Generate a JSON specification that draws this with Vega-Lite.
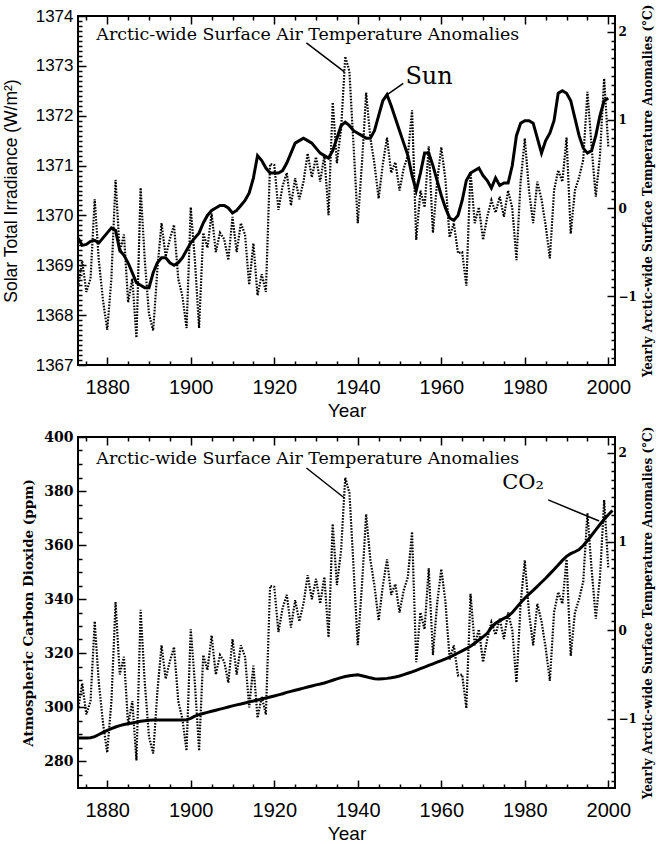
{
  "$schema": "https://vega.github.io/schema/vega-lite/v6.json",
  "background": "white",
  "padding": {"left": 1, "top": 3, "right": 2, "bottom": 0},
  "spacing": 4,
  "config": {
    "view": {"stroke": "black", "strokeWidth": 2},
    "axis": {"grid": false, "domain": false, "tickColor": "black", "tickWidth": 1.5, "labelColor": "black", "titleColor": "black"}
  },
  "datasets": {
    "series": [
      {"year": 1873, "temp": -0.9, "sun": 1369.55, "co2": 288.5},
      {"year": 1874, "temp": -0.6, "sun": 1369.4, "co2": 288.5},
      {"year": 1875, "temp": -0.95, "sun": 1369.42, "co2": 288.5},
      {"year": 1876, "temp": -0.8, "sun": 1369.48, "co2": 288.6},
      {"year": 1877, "temp": 0.1, "sun": 1369.5, "co2": 289.0},
      {"year": 1878, "temp": -0.6, "sun": 1369.45, "co2": 289.8},
      {"year": 1879, "temp": -1.05, "sun": 1369.55, "co2": 290.6},
      {"year": 1880, "temp": -1.38, "sun": 1369.65, "co2": 291.3},
      {"year": 1881, "temp": -0.8, "sun": 1369.75, "co2": 292.0},
      {"year": 1882, "temp": 0.32, "sun": 1369.7, "co2": 292.6},
      {"year": 1883, "temp": -0.5, "sun": 1369.3, "co2": 293.1},
      {"year": 1884, "temp": -0.3, "sun": 1369.2, "co2": 293.5},
      {"year": 1885, "temp": -1.07, "sun": 1369.05, "co2": 293.8},
      {"year": 1886, "temp": -0.8, "sun": 1368.85, "co2": 294.1},
      {"year": 1887, "temp": -1.47, "sun": 1368.65, "co2": 294.4},
      {"year": 1888, "temp": 0.23, "sun": 1368.6, "co2": 294.7},
      {"year": 1889, "temp": -0.6, "sun": 1368.55, "co2": 294.9},
      {"year": 1890, "temp": -1.2, "sun": 1368.55, "co2": 295.1},
      {"year": 1891, "temp": -1.39, "sun": 1368.85, "co2": 295.2},
      {"year": 1892, "temp": -0.7, "sun": 1369.05, "co2": 295.2},
      {"year": 1893, "temp": -0.17, "sun": 1369.15, "co2": 295.2},
      {"year": 1894, "temp": -0.55, "sun": 1369.15, "co2": 295.2},
      {"year": 1895, "temp": -0.35, "sun": 1369.05, "co2": 295.2},
      {"year": 1896, "temp": -0.19, "sun": 1369.0, "co2": 295.2},
      {"year": 1897, "temp": -0.8, "sun": 1369.05, "co2": 295.2},
      {"year": 1898, "temp": -1.0, "sun": 1369.15, "co2": 295.2},
      {"year": 1899, "temp": -1.36, "sun": 1369.3, "co2": 295.3},
      {"year": 1900, "temp": 0.01, "sun": 1369.45, "co2": 295.8},
      {"year": 1901, "temp": -0.6, "sun": 1369.55, "co2": 296.6},
      {"year": 1902, "temp": -1.36, "sun": 1369.65, "co2": 297.2},
      {"year": 1903, "temp": -0.28, "sun": 1369.85, "co2": 297.6},
      {"year": 1904, "temp": -0.45, "sun": 1370.0, "co2": 298.0},
      {"year": 1905, "temp": -0.06, "sun": 1370.1, "co2": 298.4},
      {"year": 1906, "temp": -0.5, "sun": 1370.15, "co2": 298.8},
      {"year": 1907, "temp": -0.28, "sun": 1370.2, "co2": 299.2},
      {"year": 1908, "temp": -0.35, "sun": 1370.2, "co2": 299.6},
      {"year": 1909, "temp": -0.59, "sun": 1370.15, "co2": 300.0},
      {"year": 1910, "temp": -0.1, "sun": 1370.05, "co2": 300.4},
      {"year": 1911, "temp": -0.5, "sun": 1370.1, "co2": 300.8},
      {"year": 1912, "temp": -0.17, "sun": 1370.2, "co2": 301.1},
      {"year": 1913, "temp": -0.3, "sun": 1370.3, "co2": 301.5},
      {"year": 1914, "temp": -0.87, "sun": 1370.45, "co2": 301.9},
      {"year": 1915, "temp": -0.4, "sun": 1370.75, "co2": 302.2},
      {"year": 1916, "temp": -0.99, "sun": 1371.2, "co2": 302.6},
      {"year": 1917, "temp": -0.75, "sun": 1371.1, "co2": 303.0},
      {"year": 1918, "temp": -0.95, "sun": 1370.95, "co2": 303.3},
      {"year": 1919, "temp": 0.5, "sun": 1370.85, "co2": 303.7},
      {"year": 1920, "temp": 0.49, "sun": 1370.85, "co2": 304.1},
      {"year": 1921, "temp": -0.02, "sun": 1370.85, "co2": 304.5},
      {"year": 1922, "temp": 0.25, "sun": 1370.9, "co2": 304.9},
      {"year": 1923, "temp": 0.4, "sun": 1371.05, "co2": 305.4},
      {"year": 1924, "temp": 0.03, "sun": 1371.25, "co2": 305.8},
      {"year": 1925, "temp": 0.34, "sun": 1371.45, "co2": 306.2},
      {"year": 1926, "temp": 0.1, "sun": 1371.5, "co2": 306.6},
      {"year": 1927, "temp": 0.3, "sun": 1371.55, "co2": 307.0},
      {"year": 1928, "temp": 0.62, "sun": 1371.5, "co2": 307.4},
      {"year": 1929, "temp": 0.35, "sun": 1371.45, "co2": 307.8},
      {"year": 1930, "temp": 0.58, "sun": 1371.35, "co2": 308.2},
      {"year": 1931, "temp": 0.3, "sun": 1371.25, "co2": 308.5},
      {"year": 1932, "temp": 0.6, "sun": 1371.2, "co2": 308.9},
      {"year": 1933, "temp": -0.08, "sun": 1371.15, "co2": 309.4},
      {"year": 1934, "temp": 1.2, "sun": 1371.3, "co2": 309.9},
      {"year": 1935, "temp": 0.51, "sun": 1371.55, "co2": 310.4},
      {"year": 1936, "temp": 0.9, "sun": 1371.8, "co2": 310.9},
      {"year": 1937, "temp": 1.72, "sun": 1371.87, "co2": 311.3},
      {"year": 1938, "temp": 1.55, "sun": 1371.8, "co2": 311.6},
      {"year": 1939, "temp": 0.7, "sun": 1371.7, "co2": 311.8},
      {"year": 1940, "temp": -0.17, "sun": 1371.65, "co2": 311.9},
      {"year": 1941, "temp": 0.5, "sun": 1371.6, "co2": 311.6},
      {"year": 1942, "temp": 1.31, "sun": 1371.55, "co2": 311.2},
      {"year": 1943, "temp": 0.8, "sun": 1371.55, "co2": 310.8},
      {"year": 1944, "temp": 0.5, "sun": 1371.7, "co2": 310.5},
      {"year": 1945, "temp": 0.11, "sun": 1372.0, "co2": 310.4},
      {"year": 1946, "temp": 0.5, "sun": 1372.3, "co2": 310.5},
      {"year": 1947, "temp": 0.8, "sun": 1372.42, "co2": 310.6},
      {"year": 1948, "temp": 0.4, "sun": 1372.2, "co2": 310.8},
      {"year": 1949, "temp": 0.52, "sun": 1371.95, "co2": 311.1},
      {"year": 1950, "temp": 0.2, "sun": 1371.7, "co2": 311.5},
      {"year": 1951, "temp": 0.45, "sun": 1371.45, "co2": 312.0},
      {"year": 1952, "temp": 0.6, "sun": 1371.2, "co2": 312.5},
      {"year": 1953, "temp": 1.11, "sun": 1370.8, "co2": 313.0},
      {"year": 1954, "temp": -0.36, "sun": 1370.5, "co2": 313.6},
      {"year": 1955, "temp": 0.2, "sun": 1370.85, "co2": 314.2},
      {"year": 1956, "temp": 0.01, "sun": 1371.25, "co2": 314.8},
      {"year": 1957, "temp": 0.7, "sun": 1371.25, "co2": 315.4},
      {"year": 1958, "temp": -0.28, "sun": 1371.0, "co2": 316.0},
      {"year": 1959, "temp": 0.3, "sun": 1370.7, "co2": 316.6},
      {"year": 1960, "temp": 0.69, "sun": 1370.4, "co2": 317.2},
      {"year": 1961, "temp": 0.32, "sun": 1370.15, "co2": 317.8},
      {"year": 1962, "temp": -0.33, "sun": 1369.95, "co2": 318.5},
      {"year": 1963, "temp": -0.17, "sun": 1369.9, "co2": 319.2},
      {"year": 1964, "temp": -0.51, "sun": 1370.0, "co2": 320.0},
      {"year": 1965, "temp": -0.5, "sun": 1370.3, "co2": 320.8},
      {"year": 1966, "temp": -0.88, "sun": 1370.7, "co2": 321.6},
      {"year": 1967, "temp": 0.41, "sun": 1370.85, "co2": 322.5},
      {"year": 1968, "temp": -0.17, "sun": 1370.9, "co2": 323.6},
      {"year": 1969, "temp": 0.01, "sun": 1370.95, "co2": 324.8},
      {"year": 1970, "temp": -0.36, "sun": 1370.8, "co2": 326.0},
      {"year": 1971, "temp": -0.1, "sun": 1370.7, "co2": 327.3},
      {"year": 1972, "temp": 0.09, "sun": 1370.55, "co2": 329.5},
      {"year": 1973, "temp": -0.05, "sun": 1370.75, "co2": 331.0},
      {"year": 1974, "temp": 0.13, "sun": 1370.6, "co2": 332.0},
      {"year": 1975, "temp": -0.1, "sun": 1370.65, "co2": 332.8},
      {"year": 1976, "temp": 0.2, "sun": 1370.65, "co2": 333.6},
      {"year": 1977, "temp": 0.0, "sun": 1371.0, "co2": 335.0},
      {"year": 1978, "temp": -0.59, "sun": 1371.6, "co2": 336.8},
      {"year": 1979, "temp": 0.3, "sun": 1371.85, "co2": 338.6},
      {"year": 1980, "temp": 0.79, "sun": 1371.9, "co2": 340.3},
      {"year": 1981, "temp": 0.2, "sun": 1371.9, "co2": 341.8},
      {"year": 1982, "temp": -0.17, "sun": 1371.85, "co2": 343.2},
      {"year": 1983, "temp": 0.3, "sun": 1371.55, "co2": 344.7},
      {"year": 1984, "temp": 0.1, "sun": 1371.25, "co2": 346.2},
      {"year": 1985, "temp": -0.2, "sun": 1371.5, "co2": 347.7},
      {"year": 1986, "temp": -0.57, "sun": 1371.65, "co2": 349.3},
      {"year": 1987, "temp": 0.2, "sun": 1371.9, "co2": 350.9},
      {"year": 1988, "temp": 0.43, "sun": 1372.45, "co2": 352.6},
      {"year": 1989, "temp": 0.3, "sun": 1372.5, "co2": 354.3},
      {"year": 1990, "temp": 0.8, "sun": 1372.45, "co2": 355.8},
      {"year": 1991, "temp": -0.29, "sun": 1372.3, "co2": 356.8},
      {"year": 1992, "temp": 0.2, "sun": 1371.95, "co2": 357.5},
      {"year": 1993, "temp": 0.35, "sun": 1371.6, "co2": 358.3},
      {"year": 1994, "temp": 0.55, "sun": 1371.35, "co2": 359.8},
      {"year": 1995, "temp": 1.32, "sun": 1371.25, "co2": 361.6},
      {"year": 1996, "temp": 0.69, "sun": 1371.3, "co2": 363.6},
      {"year": 1997, "temp": 0.13, "sun": 1371.6, "co2": 365.6},
      {"year": 1998, "temp": 0.6, "sun": 1372.0, "co2": 367.6},
      {"year": 1999, "temp": 1.47, "sun": 1372.3, "co2": 369.5},
      {"year": 2000, "temp": 0.7, "sun": 1372.35, "co2": 371.2},
      {"year": 2001, "co2": 372.8}
    ]
  },
  "vconcat": [
    {
      "width": 537,
      "height": 349,
      "data": {"name": "series"},
      "resolve": {"scale": {"y": "independent"}, "axis": {"x": "independent"}},
      "layer": [
        {
          "layer": [
            {
              "mark": {"type": "line", "color": "black", "strokeWidth": 2.2, "strokeDash": [1.6, 1.4]},
              "encoding": {
                "x": {
                  "field": "year", "type": "quantitative",
                  "scale": {"domain": [1873, 2001.6], "nice": false, "zero": false},
                  "axis": {
                    "orient": "bottom", "title": "Year", "values": [1880, 1900, 1920, 1940, 1960, 1980, 2000], "format": "d",
                    "offset": -8, "tickSize": 8, "labelPadding": 12, "labelFlush": false, "labelOverlap": false,
                    "labelFont": "Liberation Sans", "labelFontSize": 20,
                    "titleFont": "Liberation Sans", "titleFontSize": 19, "titleFontWeight": "normal", "titlePadding": 4
                  }
                },
                "y": {
                  "field": "temp", "type": "quantitative",
                  "scale": {"domain": [-1.78, 2.18], "nice": false, "zero": false},
                  "axis": {
                    "orient": "right", "title": "Yearly Arctic-wide Surface Temperature Anomalies (°C)", "values": [-1, 0, 1, 2], "format": "d",
                    "offset": -8, "tickSize": 8, "labelPadding": 3, "labelFlush": false, "labelOverlap": false,
                    "labelFont": "DejaVu Serif", "labelFontSize": 12, "labelFontWeight": "bold",
                    "titleFont": "DejaVu Serif", "titleFontSize": 12, "titleFontWeight": "bold",
                    "titleAngle": 270, "titleBaseline": "top", "titlePadding": 6
                  }
                }
              }
            },
            {
              "data": {"values": [{"year": 1877.4, "temp": 1.964, "label": "Arctic-wide Surface Air Temperature Anomalies"}]},
              "mark": {"type": "text", "align": "left", "baseline": "middle", "font": "DejaVu Serif", "fontSize": 17.4, "color": "black"},
              "encoding": {
                "x": {"field": "year", "type": "quantitative", "scale": {"domain": [1873, 2001.6], "nice": false, "zero": false}},
                "y": {"field": "temp", "type": "quantitative", "scale": {"domain": [-1.78, 2.18], "nice": false, "zero": false}},
                "text": {"field": "label"}
              }
            },
            {
              "data": {"values": [{"year": 1927.7, "year2": 1936.8, "temp": 1.874, "temp2": 1.545}]},
              "mark": {"type": "rule", "color": "black", "strokeWidth": 1.5},
              "encoding": {
                "x": {"field": "year", "type": "quantitative", "scale": {"domain": [1873, 2001.6], "nice": false, "zero": false}},
                "x2": {"field": "year2"},
                "y": {"field": "temp", "type": "quantitative", "scale": {"domain": [-1.78, 2.18], "nice": false, "zero": false}},
                "y2": {"field": "temp2"}
              }
            }
          ]
        },
        {
          "layer": [
            {
              "mark": {"type": "line", "color": "black", "strokeWidth": 3},
              "encoding": {
                "x": {
                  "field": "year", "type": "quantitative",
                  "scale": {"domain": [1873, 2001.6], "nice": false, "zero": false},
                  "axis": {"orient": "top", "title": null, "labels": false, "values": [1880, 1900, 1920, 1940, 1960, 1980, 2000], "offset": -8, "tickSize": 8}
                },
                "y": {
                  "field": "sun", "type": "quantitative",
                  "scale": {"domain": [1367, 1374], "nice": false, "zero": false},
                  "axis": {
                    "orient": "left", "title": "Solar Total Irradiance (W/m²)", "values": [1367, 1368, 1369, 1370, 1371, 1372, 1373, 1374], "format": "d",
                    "offset": -8, "tickSize": 8, "labelPadding": 5, "labelFlush": false, "labelOverlap": false,
                    "labelFont": "Liberation Sans", "labelFontSize": 17,
                    "titleFont": "Liberation Sans", "titleFontSize": 17.5, "titleFontWeight": "normal", "titlePadding": 15
                  }
                }
              }
            },
            {
              "data": {"values": [{"year": 1951.4, "sun": 1372.78, "label": "Sun"}]},
              "mark": {"type": "text", "align": "left", "baseline": "middle", "font": "DejaVu Serif", "fontSize": 24, "color": "black"},
              "encoding": {
                "x": {"field": "year", "type": "quantitative", "scale": {"domain": [1873, 2001.6], "nice": false, "zero": false}},
                "y": {"field": "sun", "type": "quantitative", "scale": {"domain": [1367, 1374], "nice": false, "zero": false}},
                "text": {"field": "label"}
              }
            },
            {
              "data": {"values": [{"year": 1950.9, "year2": 1946.8, "sun": 1372.65, "sun2": 1372.41}]},
              "mark": {"type": "rule", "color": "black", "strokeWidth": 1.5},
              "encoding": {
                "x": {"field": "year", "type": "quantitative", "scale": {"domain": [1873, 2001.6], "nice": false, "zero": false}},
                "x2": {"field": "year2"},
                "y": {"field": "sun", "type": "quantitative", "scale": {"domain": [1367, 1374], "nice": false, "zero": false}},
                "y2": {"field": "sun2"}
              }
            }
          ]
        },
        {
          "mark": {"type": "line", "strokeOpacity": 0},
          "encoding": {
            "x": {
              "field": "year", "type": "quantitative",
              "scale": {"domain": [1873, 2001.6], "nice": false, "zero": false},
              "axis": {"orient": "bottom", "title": null, "labels": false, "values": [1875, 1885, 1890, 1895, 1905, 1910, 1915, 1925, 1930, 1935, 1945, 1950, 1955, 1965, 1970, 1975, 1985, 1990, 1995], "offset": -4, "tickSize": 4}
            },
            "y": {
              "field": "temp", "type": "quantitative",
              "scale": {"domain": [-1.78, 2.18], "nice": false, "zero": false},
              "axis": {"orient": "right", "title": null, "labels": false, "values": [-1.7, -1.6, -1.5, -1.4, -1.3, -1.2, -1.1, -0.9, -0.8, -0.7, -0.6, -0.5, -0.4, -0.3, -0.2, -0.1, 0.1, 0.2, 0.3, 0.4, 0.5, 0.6, 0.7, 0.8, 0.9, 1.1, 1.2, 1.3, 1.4, 1.5, 1.6, 1.7, 1.8, 1.9, 2.1], "offset": -4, "tickSize": 4}
            }
          }
        },
        {
          "mark": {"type": "line", "strokeOpacity": 0},
          "encoding": {
            "x": {
              "field": "year", "type": "quantitative",
              "scale": {"domain": [1873, 2001.6], "nice": false, "zero": false},
              "axis": {"orient": "top", "title": null, "labels": false, "values": [1875, 1885, 1890, 1895, 1905, 1910, 1915, 1925, 1930, 1935, 1945, 1950, 1955, 1965, 1970, 1975, 1985, 1990, 1995], "offset": -4, "tickSize": 4}
            },
            "y": {
              "field": "sun", "type": "quantitative",
              "scale": {"domain": [1367, 1374], "nice": false, "zero": false},
              "axis": {"orient": "left", "title": null, "labels": false, "values": [1367.1, 1367.2, 1367.3, 1367.4, 1367.5, 1367.6, 1367.7, 1367.8, 1367.9, 1368.1, 1368.2, 1368.3, 1368.4, 1368.5, 1368.6, 1368.7, 1368.8, 1368.9, 1369.1, 1369.2, 1369.3, 1369.4, 1369.5, 1369.6, 1369.7, 1369.8, 1369.9, 1370.1, 1370.2, 1370.3, 1370.4, 1370.5, 1370.6, 1370.7, 1370.8, 1370.9, 1371.1, 1371.2, 1371.3, 1371.4, 1371.5, 1371.6, 1371.7, 1371.8, 1371.9, 1372.1, 1372.2, 1372.3, 1372.4, 1372.5, 1372.6, 1372.7, 1372.8, 1372.9, 1373.1, 1373.2, 1373.3, 1373.4, 1373.5, 1373.6, 1373.7, 1373.8, 1373.9], "offset": -4, "tickSize": 4}
            }
          }
        }
      ]
    },
    {
      "width": 537,
      "height": 351,
      "data": {"name": "series"},
      "resolve": {"scale": {"y": "independent"}, "axis": {"x": "independent"}},
      "layer": [
        {
          "layer": [
            {
              "mark": {"type": "line", "color": "black", "strokeWidth": 2.2, "strokeDash": [1.6, 1.4]},
              "encoding": {
                "x": {
                  "field": "year", "type": "quantitative",
                  "scale": {"domain": [1873, 2001.6], "nice": false, "zero": false},
                  "axis": {
                    "orient": "bottom", "title": "Year", "values": [1880, 1900, 1920, 1940, 1960, 1980, 2000], "format": "d",
                    "offset": -8, "tickSize": 8, "labelPadding": 12, "labelFlush": false, "labelOverlap": false,
                    "labelFont": "Liberation Sans", "labelFontSize": 20,
                    "titleFont": "Liberation Sans", "titleFontSize": 19, "titleFontWeight": "normal", "titlePadding": 4
                  }
                },
                "y": {
                  "field": "temp", "type": "quantitative",
                  "scale": {"domain": [-1.78, 2.18], "nice": false, "zero": false},
                  "axis": {
                    "orient": "right", "title": "Yearly Arctic-wide Surface Temperature Anomalies (°C)", "values": [-1, 0, 1, 2], "format": "d",
                    "offset": -8, "tickSize": 8, "labelPadding": 3, "labelFlush": false, "labelOverlap": false,
                    "labelFont": "DejaVu Serif", "labelFontSize": 12, "labelFontWeight": "bold",
                    "titleFont": "DejaVu Serif", "titleFontSize": 12, "titleFontWeight": "bold",
                    "titleAngle": 270, "titleBaseline": "top", "titlePadding": 6
                  }
                }
              }
            },
            {
              "data": {"values": [{"year": 1877.4, "temp": 1.932, "label": "Arctic-wide Surface Air Temperature Anomalies"}]},
              "mark": {"type": "text", "align": "left", "baseline": "middle", "font": "DejaVu Serif", "fontSize": 17.4, "color": "black"},
              "encoding": {
                "x": {"field": "year", "type": "quantitative", "scale": {"domain": [1873, 2001.6], "nice": false, "zero": false}},
                "y": {"field": "temp", "type": "quantitative", "scale": {"domain": [-1.78, 2.18], "nice": false, "zero": false}},
                "text": {"field": "label"}
              }
            },
            {
              "data": {"values": [{"year": 1927.7, "year2": 1936.8, "temp": 1.83, "temp2": 1.492}]},
              "mark": {"type": "rule", "color": "black", "strokeWidth": 1.5},
              "encoding": {
                "x": {"field": "year", "type": "quantitative", "scale": {"domain": [1873, 2001.6], "nice": false, "zero": false}},
                "x2": {"field": "year2"},
                "y": {"field": "temp", "type": "quantitative", "scale": {"domain": [-1.78, 2.18], "nice": false, "zero": false}},
                "y2": {"field": "temp2"}
              }
            }
          ]
        },
        {
          "layer": [
            {
              "mark": {"type": "line", "color": "black", "strokeWidth": 3},
              "encoding": {
                "x": {
                  "field": "year", "type": "quantitative",
                  "scale": {"domain": [1873, 2001.6], "nice": false, "zero": false},
                  "axis": {"orient": "top", "title": null, "labels": false, "values": [1880, 1900, 1920, 1940, 1960, 1980, 2000], "offset": -8, "tickSize": 8}
                },
                "y": {
                  "field": "co2", "type": "quantitative",
                  "scale": {"domain": [270, 400], "nice": false, "zero": false},
                  "axis": {
                    "orient": "left", "title": "Atmospheric Carbon Dioxide (ppm)", "values": [280, 300, 320, 340, 360, 380, 400], "format": "d",
                    "offset": -8, "tickSize": 8, "labelPadding": 5, "labelFlush": false, "labelOverlap": false,
                    "labelFont": "DejaVu Serif", "labelFontSize": 14, "labelFontWeight": "bold",
                    "titleFont": "DejaVu Serif", "titleFontSize": 13.5, "titleFontWeight": "bold", "titlePadding": 8
                  }
                }
              }
            },
            {
              "data": {"values": [{"year": 1974.6, "co2": 383, "label": "CO₂"}]},
              "mark": {"type": "text", "align": "left", "baseline": "middle", "font": "DejaVu Serif", "fontSize": 21, "color": "black"},
              "encoding": {
                "x": {"field": "year", "type": "quantitative", "scale": {"domain": [1873, 2001.6], "nice": false, "zero": false}},
                "y": {"field": "co2", "type": "quantitative", "scale": {"domain": [270, 400], "nice": false, "zero": false}},
                "text": {"field": "label"}
              }
            },
            {
              "data": {"values": [{"year": 1985.6, "year2": 1997.8, "co2": 376.7, "co22": 368.9}]},
              "mark": {"type": "rule", "color": "black", "strokeWidth": 1.5},
              "encoding": {
                "x": {"field": "year", "type": "quantitative", "scale": {"domain": [1873, 2001.6], "nice": false, "zero": false}},
                "x2": {"field": "year2"},
                "y": {"field": "co2", "type": "quantitative", "scale": {"domain": [270, 400], "nice": false, "zero": false}},
                "y2": {"field": "co22"}
              }
            }
          ]
        },
        {
          "mark": {"type": "line", "strokeOpacity": 0},
          "encoding": {
            "x": {
              "field": "year", "type": "quantitative",
              "scale": {"domain": [1873, 2001.6], "nice": false, "zero": false},
              "axis": {"orient": "bottom", "title": null, "labels": false, "values": [1875, 1885, 1890, 1895, 1905, 1910, 1915, 1925, 1930, 1935, 1945, 1950, 1955, 1965, 1970, 1975, 1985, 1990, 1995], "offset": -4, "tickSize": 4}
            },
            "y": {
              "field": "temp", "type": "quantitative",
              "scale": {"domain": [-1.78, 2.18], "nice": false, "zero": false},
              "axis": {"orient": "right", "title": null, "labels": false, "values": [-1.7, -1.6, -1.5, -1.4, -1.3, -1.2, -1.1, -0.9, -0.8, -0.7, -0.6, -0.5, -0.4, -0.3, -0.2, -0.1, 0.1, 0.2, 0.3, 0.4, 0.5, 0.6, 0.7, 0.8, 0.9, 1.1, 1.2, 1.3, 1.4, 1.5, 1.6, 1.7, 1.8, 1.9, 2.1], "offset": -4, "tickSize": 4}
            }
          }
        },
        {
          "mark": {"type": "line", "strokeOpacity": 0},
          "encoding": {
            "x": {
              "field": "year", "type": "quantitative",
              "scale": {"domain": [1873, 2001.6], "nice": false, "zero": false},
              "axis": {"orient": "top", "title": null, "labels": false, "values": [1875, 1885, 1890, 1895, 1905, 1910, 1915, 1925, 1930, 1935, 1945, 1950, 1955, 1965, 1970, 1975, 1985, 1990, 1995], "offset": -4, "tickSize": 4}
            },
            "y": {
              "field": "co2", "type": "quantitative",
              "scale": {"domain": [270, 400], "nice": false, "zero": false},
              "axis": {"orient": "left", "title": null, "labels": false, "values": [275, 285, 290, 295, 305, 310, 315, 325, 330, 335, 345, 350, 355, 365, 370, 375, 385, 390, 395], "offset": -4, "tickSize": 4}
            }
          }
        }
      ]
    }
  ]
}
